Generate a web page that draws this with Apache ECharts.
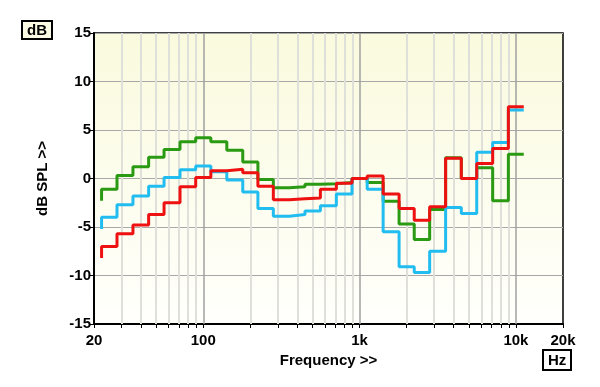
<!DOCTYPE html>
<html>
<head>
<meta charset="UTF-8">
<title>SPL</title>
<style type="text/css">
html, body {
	width: 100%;
	height: 100%;
	padding: 0px;
	margin: 0px;
	background: #ffffff;
}
</style>
<script src="https://cdn.jsdelivr.net/npm/echarts@6/dist/echarts.min.js"></script>
</head>
<body>
	<div id="chart" style="width: 600px; height: 387px;"></div>

	<script type="text/javascript">
        // 1/3 octave band centres (Hz)
        var bands = [20, 25, 31.5, 40, 50, 63, 80, 100, 125, 160, 200, 250, 315, 400, 500, 630, 800,
                     1000, 1250, 1600, 2000, 2500, 3150, 4000, 5000, 6300, 8000, 10000];
        // band levels, dB SPL
        var greenVals = [-2.3, -1.1, 0.3, 1.2, 2.2, 3.0, 3.8, 4.2, 3.8, 2.9, 1.7, -0.1, -0.95, -0.85, -0.6, -0.55, -0.4,
                         0.0, -0.4, -2.35, -4.7, -6.3, -3.2, 2.15, 0.0, 1.1, -2.3, 2.5];
        var cyanVals = [-5.2, -4.0, -2.7, -1.8, -0.8, 0.1, 0.9, 1.3, 0.7, -0.15, -1.4, -3.1, -3.9, -3.7, -3.35, -2.8, -1.6,
                        0.0, -1.1, -5.5, -9.1, -9.7, -7.5, -3.0, -3.6, 2.7, 3.7, 7.05];
        var redVals = [-8.2, -7.0, -5.7, -4.8, -3.7, -2.5, -0.85, 0.1, 0.8, 0.95, 0.6, -0.8, -2.2, -2.1, -2.0, -1.1, -0.5,
                       0.0, 0.26, -1.6, -3.1, -4.3, -2.9, 2.1, 0.0, 1.55, 3.1, 7.4];

        // axis ticks
        var xLabels = [20, 100, 1000, 10000, 20000];
        var minorGrid = [30, 40, 50, 60, 70, 80, 90, 200, 300, 400, 500, 600, 700, 800, 900,
                         2000, 3000, 4000, 5000, 6000, 7000, 8000, 9000];
        var majorGrid = [100, 1000, 10000];
        var xTicks = [20].concat(minorGrid, majorGrid, [20000]);

        // turn band levels into a stepped line, edges halfway (in log) between band centres
        function steps(vals) {
            var k = Math.pow(10, 0.05);
            var n = bands.length;
            var pts = [];
            for (var i = 0; i < n; i++) {
                var lo = i > 0 ? Math.sqrt(bands[i - 1] * bands[i]) : null;
                var hi = i < n - 1 ? Math.sqrt(bands[i] * bands[i + 1]) : bands[i] * k;
                if (lo !== null) pts.push([lo, vals[i]]);
                pts.push([hi, vals[i]]);
            }
            return pts;
        }

        function gridLines(list, color, width) {
            return list.map(function (f) {
                return { xAxis: f, lineStyle: { color: color, width: width, type: 'solid' } };
            });
        }

        var font = '"Liberation Sans", Arial, sans-serif';
        var myChart = echarts.init(document.getElementById('chart'));

        myChart.setOption({
            animation: false,
            backgroundColor: '#ffffff',
            title: [
                { text: 'dB', left: 22, top: 21, padding: [2, 5, 1, 5],
                  backgroundColor: '#fbfbe4', borderColor: '#000', borderWidth: 2,
                  textStyle: { fontFamily: font, fontWeight: 'bold', fontSize: 15, color: '#000' } },
                { text: 'Hz', left: 543, top: 350, padding: [3, 5, 2, 5],
                  backgroundColor: '#ffffff', borderColor: '#000', borderWidth: 2,
                  textStyle: { fontFamily: font, fontWeight: 'bold', fontSize: 15, color: '#000' } }
            ],
            grid: {
                left: 94, right: 37, top: 33, bottom: 63,
                show: true,
                borderColor: '#000', borderWidth: 1.5,
                backgroundColor: new echarts.graphic.LinearGradient(0, 0, 0, 1, [
                    { offset: 0, color: '#fafade' },
                    { offset: 1, color: '#fffffc' }
                ])
            },
            xAxis: {
                type: 'log', logBase: 10, min: 20, max: 20000,
                name: 'Frequency >>', nameLocation: 'middle', nameGap: 28,
                nameTextStyle: { fontFamily: font, fontWeight: 'bold', fontSize: 15, color: '#000' },
                axisLine: { onZero: false, lineStyle: { color: '#000', width: 2 } },
                axisTick: { show: true, customValues: xTicks, length: 4, lineStyle: { color: '#000' } },
                axisLabel: {
                    customValues: xLabels, margin: 9,
                    fontFamily: font, fontWeight: 'bold', fontSize: 15, color: '#000',
                    formatter: function (v) { return v >= 1000 ? (v / 1000) + 'k' : String(v); }
                },
                splitLine: { show: false },
                minorTick: { show: false }
            },
            yAxis: {
                type: 'value', min: -15, max: 15, interval: 5,
                name: 'dB SPL >>', nameLocation: 'middle', nameGap: 44, nameRotate: 90,
                nameTextStyle: { fontFamily: font, fontWeight: 'bold', fontSize: 15, color: '#000' },
                axisLine: { show: true, onZero: false, lineStyle: { color: '#000', width: 2 } },
                axisTick: { show: true, length: 5, lineStyle: { color: '#000' } },
                axisLabel: { margin: 3, fontFamily: font, fontWeight: 'bold', fontSize: 15, color: '#000' },
                splitLine: { lineStyle: { color: '#a8a8a8', width: 1 } }
            },
            series: [
                {
                    type: 'line', name: 'grid', data: [], silent: true, z: 1,
                    markLine: {
                        silent: true, symbol: 'none', label: { show: false }, z: 1,
                        data: gridLines(minorGrid, '#e0e0da', 2).concat(gridLines(majorGrid, '#a0a0a0', 1.5))
                    }
                },
                { type: 'line', name: 'green', data: steps(greenVals), showSymbol: false, z: 10,
                  lineStyle: { color: '#2a9a12', width: 3 }, itemStyle: { color: '#2a9a12' } },
                { type: 'line', name: 'cyan', data: steps(cyanVals), showSymbol: false, z: 11,
                  lineStyle: { color: '#22bdf0', width: 3 }, itemStyle: { color: '#22bdf0' } },
                { type: 'line', name: 'red', data: steps(redVals), showSymbol: false, z: 12,
                  lineStyle: { color: '#ee1111', width: 3 }, itemStyle: { color: '#ee1111' } }
            ]
        });
	</script>
</body>
</html>
